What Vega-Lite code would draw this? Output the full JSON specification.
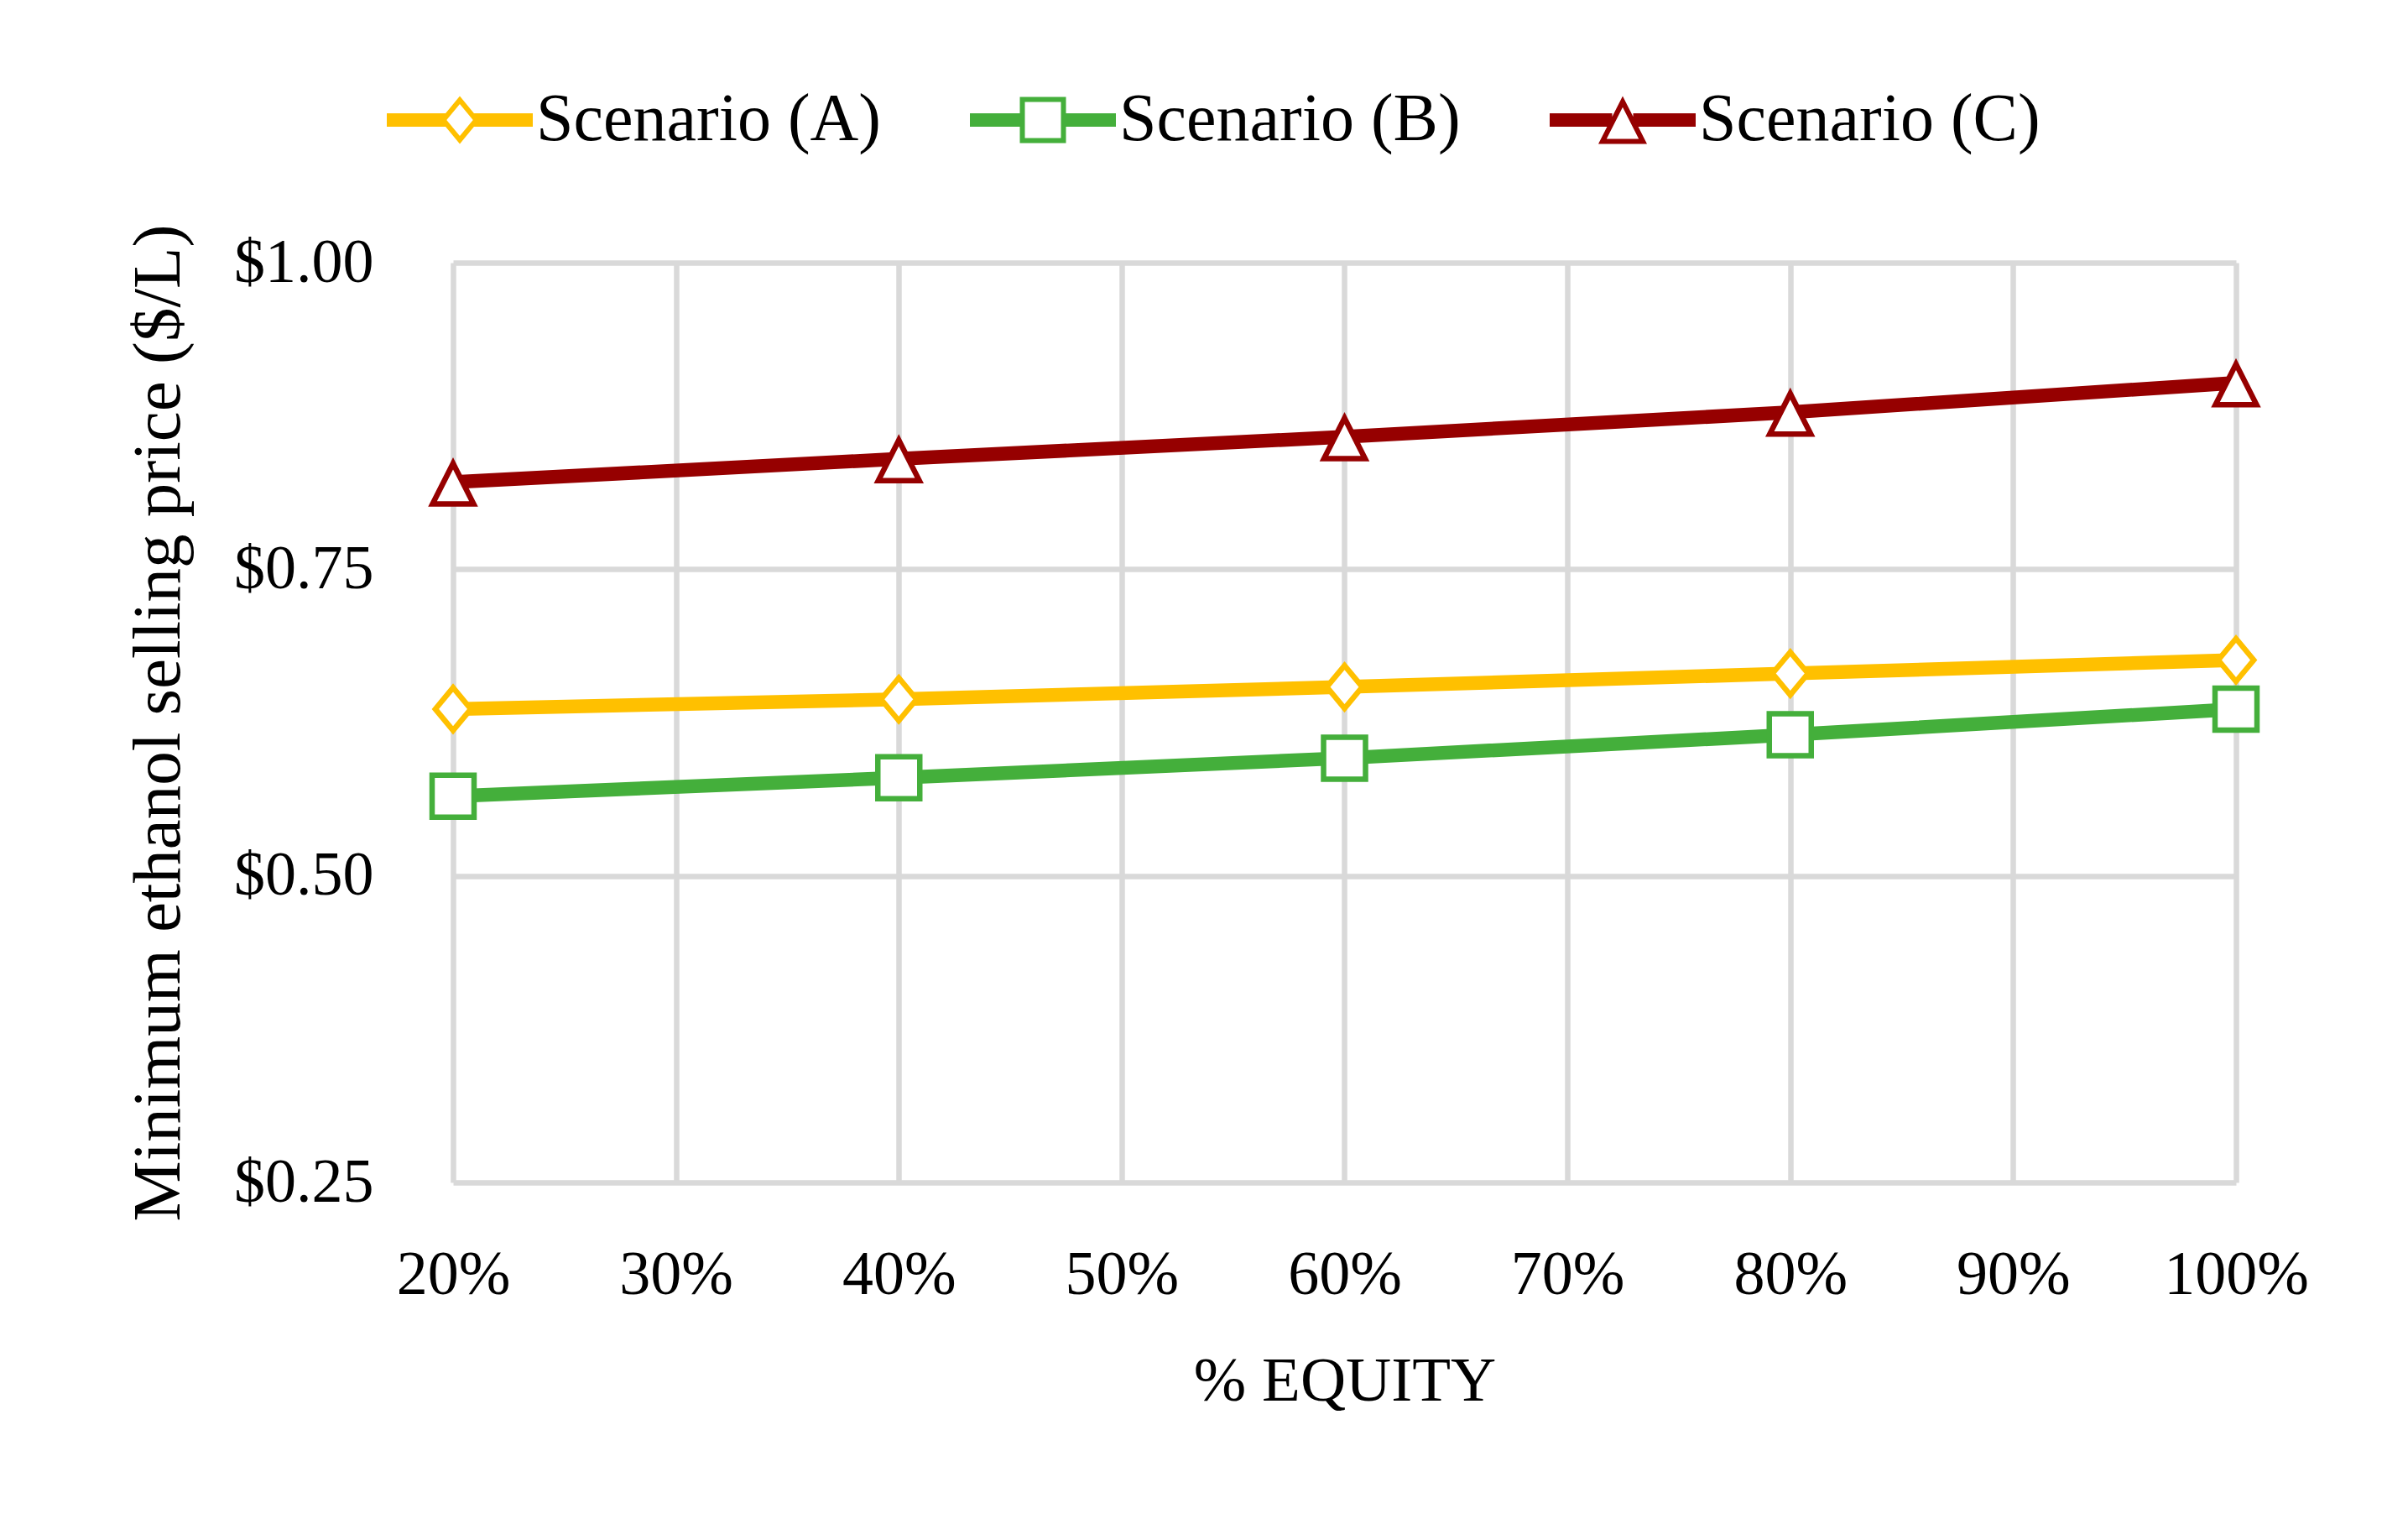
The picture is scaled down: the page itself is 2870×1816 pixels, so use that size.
{
  "$schema": "https://vega.github.io/schema/vega-lite/v6.json",
  "width": 2125,
  "height": 1096,
  "autosize": {"type": "none"},
  "padding": {"left": 540, "top": 313, "right": 205, "bottom": 407},
  "background": "white",
  "config": {
    "font": "Liberation Serif",
    "view": {"stroke": null},
    "axis": {
      "gridColor": "#D9D9D9",
      "gridWidth": 6.5,
      "gridOpacity": 1,
      "domain": false,
      "ticks": false,
      "tickSize": 0,
      "labelColor": "black",
      "titleColor": "black",
      "titleFontWeight": "normal",
      "labelFont": "Liberation Serif",
      "titleFont": "Liberation Serif"
    }
  },
  "data": {
    "values": [
      {"scenario": "Scenario (A)", "equity": 0.2, "price": 0.636},
      {"scenario": "Scenario (A)", "equity": 0.4, "price": 0.644},
      {"scenario": "Scenario (A)", "equity": 0.6, "price": 0.654},
      {"scenario": "Scenario (A)", "equity": 0.8, "price": 0.665},
      {"scenario": "Scenario (A)", "equity": 1.0, "price": 0.676},
      {"scenario": "Scenario (B)", "equity": 0.2, "price": 0.565},
      {"scenario": "Scenario (B)", "equity": 0.4, "price": 0.580},
      {"scenario": "Scenario (B)", "equity": 0.6, "price": 0.596},
      {"scenario": "Scenario (B)", "equity": 0.8, "price": 0.615},
      {"scenario": "Scenario (B)", "equity": 1.0, "price": 0.636},
      {"scenario": "Scenario (C)", "equity": 0.2, "price": 0.821},
      {"scenario": "Scenario (C)", "equity": 0.4, "price": 0.840},
      {"scenario": "Scenario (C)", "equity": 0.6, "price": 0.858},
      {"scenario": "Scenario (C)", "equity": 0.8, "price": 0.878},
      {"scenario": "Scenario (C)", "equity": 1.0, "price": 0.902}
    ]
  },
  "encoding": {
    "x": {
      "field": "equity",
      "type": "quantitative",
      "scale": {"domain": [0.2, 1.0], "nice": false, "zero": false},
      "axis": {
        "values": [0.2, 0.3, 0.4, 0.5, 0.6, 0.7, 0.8, 0.9, 1.0],
        "format": ".0%",
        "labelFontSize": 74,
        "labelPadding": 110,
        "labelBaseline": "middle",
        "labelFlush": false,
        "labelOverlap": false,
        "title": "% EQUITY",
        "titleFontSize": 75,
        "titlePadding": 53
      }
    },
    "y": {
      "field": "price",
      "type": "quantitative",
      "scale": {"domain": [0.25, 1.0], "nice": false, "zero": false},
      "axis": {
        "values": [0.25, 0.5, 0.75, 1.0],
        "format": "$.2f",
        "labelFontSize": 74,
        "labelPadding": 95,
        "labelFlush": false,
        "labelOverlap": false,
        "title": "Minimum ethanol selling price ($/L)",
        "titleFontSize": 81,
        "titlePadding": 110
      }
    },
    "color": {
      "field": "scenario",
      "type": "nominal",
      "scale": {
        "domain": ["Scenario (A)", "Scenario (B)", "Scenario (C)"],
        "range": ["#FFC000", "#44AF3B", "#960000"]
      },
      "legend": {
        "orient": "none",
        "legendX": -79,
        "legendY": -210,
        "direction": "horizontal",
        "title": null,
        "padding": 0,
        "labelFontSize": 80,
        "labelFont": "Liberation Serif",
        "labelColor": "black",
        "labelLimit": 0,
        "symbolSize": 2500,
        "symbolStrokeWidth": 0,
        "symbolOffset": 47,
        "labelOffset": 51,
        "columnPadding": 106,
        "encode": {
          "symbols": {
            "update": {
              "shape": {"signal": "datum.value === 'Scenario (A)' ? 'M-3.48,-0.32H-0.66V0.32H-3.48ZM0.66,-0.32H3.48V0.32H0.66ZM0,-1.14L0.94,0L0,1.14L-0.94,0ZM0,-0.76L-0.63,0L0,0.76L0.63,0Z' : (datum.value === 'Scenario (B)' ? 'M-3.48,-0.32H-1V0.32H-3.48ZM1,-0.32H3.48V0.32H1ZM-1.1,-1.1H1.1V1.1H-1.1ZM-0.86,-0.86V0.86H0.86V-0.86Z' : 'M-3.48,-0.32H-0.5V0.32H-3.48ZM0.5,-0.32H3.48V0.32H0.5ZM0,-1.14L1.16,1.14L-1.16,1.14ZM0,-0.61L-0.768,0.9L0.768,0.9Z')"},
              "fill": {"scale": "color", "field": "value"},
              "stroke": {"value": "transparent"},
              "strokeWidth": {"value": 0},
              "opacity": {"value": 1},
              "fillOpacity": {"value": 1}
            }
          }
        }
      }
    }
  },
  "layer": [
    {"mark": {"type": "line", "strokeWidth": 16.5}},
    {
      "transform": [{"filter": "datum.scenario === 'Scenario (A)'"}],
      "mark": {"type": "point", "filled": false, "fill": "white", "strokeWidth": 6.5, "size": 2600, "opacity": 1, "shape": "M0,-1L0.83,0L0,1L-0.83,0Z"}
    },
    {
      "transform": [{"filter": "datum.scenario === 'Scenario (B)'"}],
      "mark": {"type": "point", "filled": false, "fill": "white", "strokeWidth": 6.5, "size": 2500, "opacity": 1, "shape": "square"}
    },
    {
      "transform": [{"filter": "datum.scenario === 'Scenario (C)'"}],
      "mark": {"type": "point", "filled": false, "fill": "white", "strokeWidth": 6.5, "size": 2600, "opacity": 1, "shape": "M0,-0.876L0.96,1.02L-0.96,1.02Z"}
    }
  ]
}
